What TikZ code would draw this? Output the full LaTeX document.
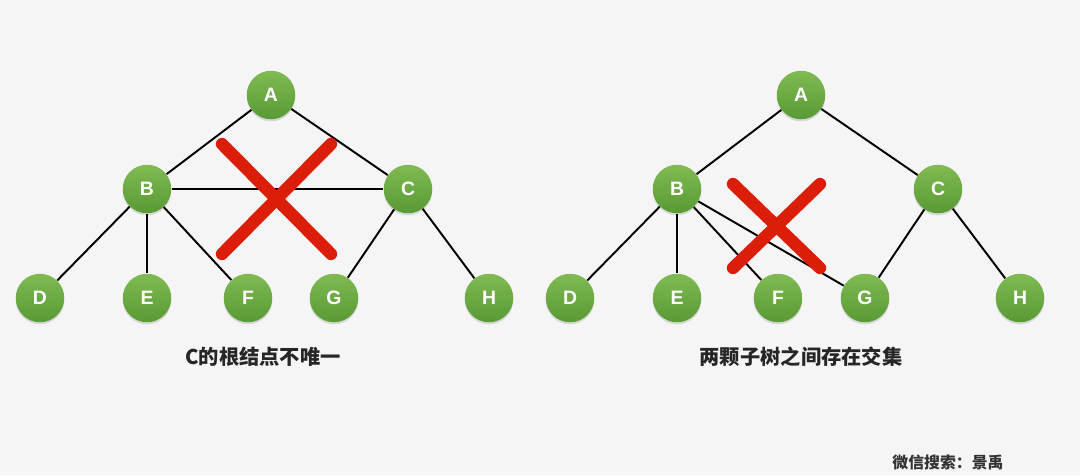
\documentclass[tikz,border=0pt]{standalone}
\usepackage{fontspec}
\setmainfont{Liberation Sans}
\newfontfamily\cjk{Noto Sans CJK SC}
\usetikzlibrary{shadows}
\definecolor{bgcolor}{RGB}{245,245,245}
\definecolor{nodetop}{RGB}{128,186,82}
\definecolor{nodebot}{RGB}{88,154,52}
\definecolor{crossred}{RGB}{218,30,10}

\begin{document}
\begin{tikzpicture}[x=0.567pt, y=-0.567pt,
                tree_node/.style={circle, top color=nodetop, bottom color=nodebot, draw=none,
                        minimum size=27.5pt, inner sep=0pt, text=white, font=\bfseries\fontsize{11}{13}\selectfont,
                        drop shadow={shadow xshift=0pt, shadow yshift=-1.2pt, opacity=0.25}},
                edge_style/.style={draw=black, line width=1.1pt},
                cross_style/.style={draw=crossred, line width=7pt, line cap=round},
                caption_style/.style={font=\cjk\bfseries\fontsize{11.5}{13}\selectfont, text=black!85}]
                \fill[bgcolor] (0,0) rectangle (1080,475);
                \useasboundingbox (0,0) rectangle (1080,475);
                % left tree
                \node[tree_node] (lA) at (271, 95) {A};
                \node[tree_node] (lB) at (147,189) {B};
                \node[tree_node] (lC) at (408,189) {C};
                \node[tree_node] (lD) at (40, 298) {D};
                \node[tree_node] (lE) at (147,298) {E};
                \node[tree_node] (lF) at (248,298) {F};
                \node[tree_node] (lG) at (334,298) {G};
                \node[tree_node] (lH) at (489,298) {H};
                \draw[edge_style] (lA) edge (lB) edge (lC);
                \draw[edge_style] (lB) edge (lC) edge (lD) edge (lE) edge (lF);
                \draw[edge_style] (lC) edge (lG) edge (lH);
                \coordinate (lx1) at (222,144);
                \coordinate (lx2) at (331,254);
                \coordinate (lx3) at (331,144);
                \coordinate (lx4) at (222,254);
                \draw[cross_style] (lx1) -- (lx2);
                \draw[cross_style] (lx3) -- (lx4);
                \node[caption_style] (lcap) at (263,357) {C的根结点不唯一};
                % right tree
                \node[tree_node] (rA) at (801, 95) {A};
                \node[tree_node] (rB) at (677,189) {B};
                \node[tree_node] (rC) at (938,189) {C};
                \node[tree_node] (rD) at (570,298) {D};
                \node[tree_node] (rE) at (677,298) {E};
                \node[tree_node] (rF) at (778,298) {F};
                \node[tree_node] (rG) at (865,298) {G};
                \node[tree_node] (rH) at (1020,298) {H};
                \draw[edge_style] (rA) edge (rB) edge (rC);
                \draw[edge_style] (rB) edge (rD) edge (rE) edge (rF) edge (rG);
                \draw[edge_style] (rC) edge (rG) edge (rH);
                \coordinate (rx1) at (733,184);
                \coordinate (rx2) at (820,268);
                \coordinate (rx3) at (820,184);
                \coordinate (rx4) at (733,268);
                \draw[cross_style] (rx1) -- (rx2);
                \draw[cross_style] (rx3) -- (rx4);
                \node[caption_style] (rcap) at (801,357) {两颗子树之间存在交集};
                \node[font=\cjk\bfseries\fontsize{9}{10}\selectfont, text=black!80] (mark) at (948,462) {微信搜索：景禹};
\end{tikzpicture}
\end{document}
